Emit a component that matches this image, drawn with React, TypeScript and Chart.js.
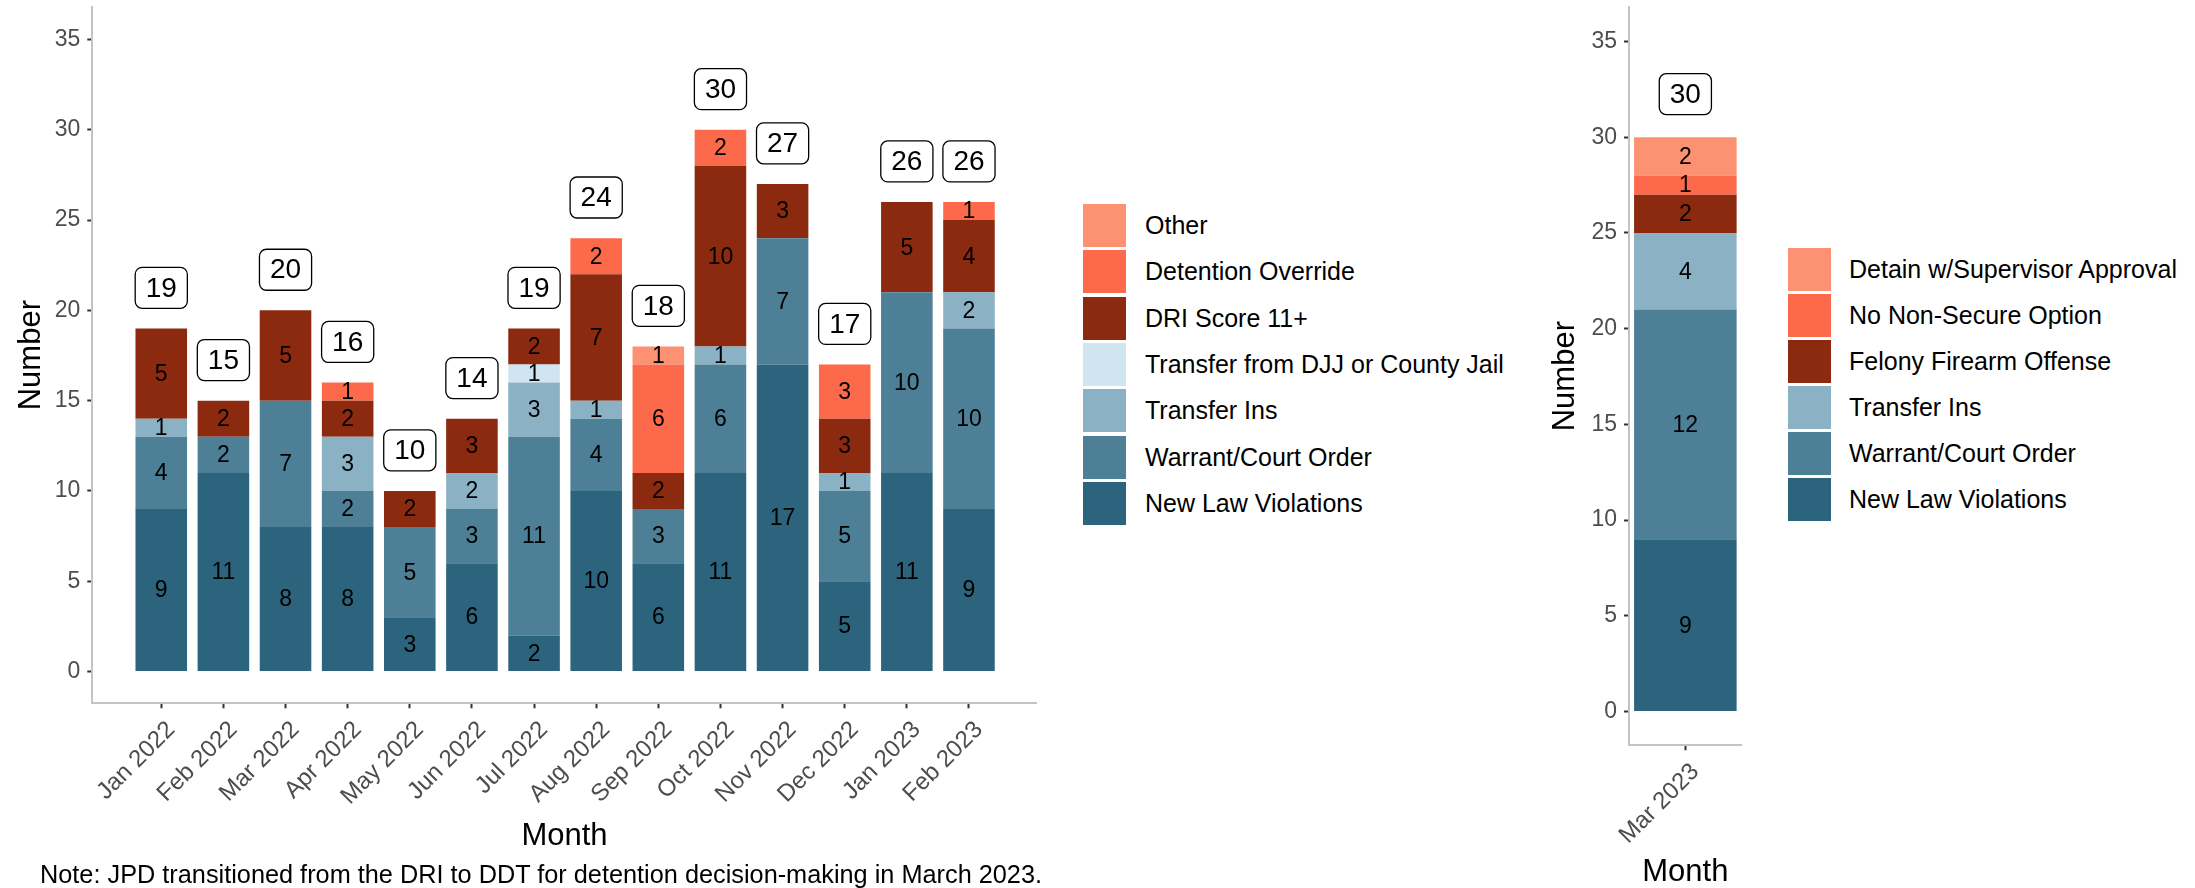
import React, { useEffect, useRef } from "react";
import { Chart, registerables } from "chart.js";
Chart.register(...registerables);

// ---------- data ----------
const months = ["Jan 2022", "Feb 2022", "Mar 2022", "Apr 2022", "May 2022", "Jun 2022", "Jul 2022", "Aug 2022", "Sep 2022", "Oct 2022", "Nov 2022", "Dec 2022", "Jan 2023", "Feb 2023"];
const newLawViolations = [9, 11, 8, 8, 3, 6, 2, 10, 6, 11, 17, 5, 11, 9];
const warrantCourtOrder = [4, 2, 7, 2, 5, 3, 11, 4, 3, 6, 7, 5, 10, 10];
const transferIns = [1, 0, 0, 3, 0, 2, 3, 1, 0, 1, 0, 1, 0, 2];
const transferDJJ = [0, 0, 0, 0, 0, 0, 1, 0, 0, 0, 0, 0, 0, 0];
const driScore = [5, 2, 5, 2, 2, 3, 2, 7, 2, 10, 3, 3, 5, 4];
const detentionOverride = [0, 0, 0, 1, 0, 0, 0, 2, 6, 2, 0, 3, 0, 1];
const otherReason = [0, 0, 0, 0, 0, 0, 0, 0, 1, 0, 0, 0, 0, 0];

const marMonths = ["Mar 2023"];
const marNewLaw = [9];
const marWarrant = [12];
const marTransferIns = [4];
const marFelonyFirearm = [2];
const marNoNonSecure = [1];
const marDetainSupervisor = [2];

const yTicks = [0, 5, 10, 15, 20, 25, 30, 35];
const noteText = "Note: JPD transitioned from the DRI to DDT for detention decision-making in March 2023.";

// ---------- styles ----------
const FONT = '"Liberation Sans", Arial, Helvetica, sans-serif';
const C_NLV = "#2C647D";
const C_WAR = "#4D7F96";
const C_TI = "#8AB2C4";
const C_DJJ = "#CFE6F0";
const C_DRI = "#8C2A0F";
const C_DO = "#FD6A4B";
const C_OTH = "#FC9272";

const leftSeries = [
  { label: "New Law Violations", data: newLawViolations, color: C_NLV },
  { label: "Warrant/Court Order", data: warrantCourtOrder, color: C_WAR },
  { label: "Transfer Ins", data: transferIns, color: C_TI },
  { label: "Transfer from DJJ or County Jail", data: transferDJJ, color: C_DJJ },
  { label: "DRI Score 11+", data: driScore, color: C_DRI },
  { label: "Detention Override", data: detentionOverride, color: C_DO },
  { label: "Other", data: otherReason, color: C_OTH },
];
const rightSeries = [
  { label: "New Law Violations", data: marNewLaw, color: C_NLV },
  { label: "Warrant/Court Order", data: marWarrant, color: C_WAR },
  { label: "Transfer Ins", data: marTransferIns, color: C_TI },
  { label: "Felony Firearm Offense", data: marFelonyFirearm, color: C_DRI },
  { label: "No Non-Secure Option", data: marNoNonSecure, color: C_DO },
  { label: "Detain w/Supervisor Approval", data: marDetainSupervisor, color: C_OTH },
];

const yMin = -1.76;
const yMax = 36.8;

const labelPlugin = {
  id: "segLabels",
  afterDatasetsDraw(chart: any) {
    const ctx = chart.ctx;
    ctx.save();
    ctx.fillStyle = "#000";
    ctx.textAlign = "center";
    ctx.textBaseline = "middle";
    ctx.font = `23px ${FONT}`;
    chart.data.datasets.forEach((ds: any, di: number) => {
      const meta = chart.getDatasetMeta(di);
      meta.data.forEach((el: any, i: number) => {
        const v = ds.data[i].y;
        if (!v) return;
        const p = el.getProps(["x", "y", "base"], true);
        ctx.fillText(String(v), p.x, (p.y + p.base) / 2 + 1);
      });
    });
    const n = chart.data.datasets[0].data.length;
    const yScale = chart.scales.y;
    ctx.font = `28px ${FONT}`;
    for (let i = 0; i < n; i++) {
      let total = 0;
      chart.data.datasets.forEach((ds: any) => (total += ds.data[i].y));
      const x = chart.getDatasetMeta(0).data[i].x;
      const cy = yScale.getPixelForValue(total + 2.25);
      const tw = ctx.measureText(String(total)).width;
      const w = tw + 21;
      const h = 41;
      const r = 7;
      const x0 = x - w / 2;
      const y0 = cy - h / 2;
      ctx.beginPath();
      ctx.moveTo(x0 + r, y0);
      ctx.lineTo(x0 + w - r, y0);
      ctx.arcTo(x0 + w, y0, x0 + w, y0 + r, r);
      ctx.lineTo(x0 + w, y0 + h - r);
      ctx.arcTo(x0 + w, y0 + h, x0 + w - r, y0 + h, r);
      ctx.lineTo(x0 + r, y0 + h);
      ctx.arcTo(x0, y0 + h, x0, y0 + h - r, r);
      ctx.lineTo(x0, y0 + r);
      ctx.arcTo(x0, y0, x0 + r, y0, r);
      ctx.closePath();
      ctx.fillStyle = "#fff";
      ctx.fill();
      ctx.lineWidth = 1.3;
      ctx.strokeStyle = "#000";
      ctx.stroke();
      ctx.fillStyle = "#000";
      ctx.fillText(String(total), x, cy + 1);
    }
    ctx.restore();
  },
};

type PanelCfg = {
  cats: string[];
  series: { label: string; data: number[]; color: string }[];
  width: number;
  height: number;
  areaLeft: number;
  areaRight: number;
  areaTop: number;
  areaBottom: number;
  xMin: number;
  xMax: number;
  barPct: number;
  xTitlePad: number;
  yTitlePad: number;
};

function makeConfig(cfg: PanelCfg): any {
  const datasets = cfg.series.map((s) => ({
    label: s.label,
    data: s.data.map((v, i) => ({ x: i, y: v })),
    backgroundColor: s.color,
    borderWidth: 0,
    categoryPercentage: 1,
    barPercentage: cfg.barPct,
  }));
  const grid = {
    display: true,
    drawOnChartArea: false,
    drawTicks: true,
    tickLength: 5,
    tickWidth: 2,
    tickColor: "#333333",
    offset: false,
  };
  const border = { display: true, color: "#C4C4C4", width: 2 };
  return {
    type: "bar",
    data: { datasets },
    plugins: [labelPlugin],
    options: {
      animation: false,
      responsive: false,
      maintainAspectRatio: false,
      layout: { padding: { left: 0, top: cfg.areaTop, right: cfg.width - cfg.areaRight, bottom: 0 } },
      plugins: { legend: { display: false }, tooltip: { enabled: false } },
      scales: {
        x: {
          type: "linear",
          stacked: true,
          offset: false,
          min: cfg.xMin,
          max: cfg.xMax,
          afterBuildTicks: (s: any) => {
            s.ticks = cfg.cats.map((_, i) => ({ value: i }));
          },
          afterFit: (s: any) => {
            s.height = cfg.height - cfg.areaBottom;
            s.paddingLeft = 0;
            s.paddingRight = 0;
          },
          ticks: {
            autoSkip: false,
            minRotation: 45,
            maxRotation: 45,
            padding: 7.5,
            labelOffset: 10,
            color: "#4D4D4D",
            font: { size: 24, family: FONT },
            callback: (v: number) => cfg.cats[Math.round(v)],
          },
          grid,
          border,
          title: {
            display: true,
            text: "Month",
            color: "#000",
            font: { size: 31, family: FONT, lineHeight: 1 },
            padding: { top: 0, bottom: cfg.xTitlePad },
          },
        },
        y: {
          type: "linear",
          stacked: true,
          min: yMin,
          max: yMax,
          afterBuildTicks: (s: any) => {
            s.ticks = yTicks.map((v) => ({ value: v }));
          },
          afterFit: (s: any) => {
            s.width = cfg.areaLeft;
            s.paddingTop = 0;
            s.paddingBottom = 0;
          },
          ticks: {
            padding: 7,
            color: "#4D4D4D",
            font: { size: 23, family: FONT },
          },
          grid,
          border,
          title: {
            display: true,
            text: "Number",
            color: "#000",
            font: { size: 31, family: FONT, lineHeight: 1 },
            padding: { top: cfg.yTitlePad, bottom: 0 },
          },
        },
      },
    },
  };
}

function Panel({ cfg, left }: { cfg: PanelCfg; left: number }) {
  const ref = useRef<HTMLCanvasElement | null>(null);
  useEffect(() => {
    if (!ref.current) return;
    const chart = new Chart(ref.current, makeConfig(cfg));
    return () => chart.destroy();
  }, []);
  return (
    <canvas
      ref={ref}
      width={cfg.width}
      height={cfg.height}
      style={{ position: "absolute", left, top: 0, width: cfg.width, height: cfg.height, display: "block" }}
    />
  );
}

function Legend({ items, left, top, pitch, textLeft, fontSize }: { items: { label: string; color: string }[]; left: number; top: number; pitch: number; textLeft: number; fontSize: number }) {
  return (
    <>
      {items.map((it, i) => (
        <div
          key={it.label}
          style={{
            position: "absolute",
            left,
            top: top + i * pitch,
            height: 43,
            display: "flex",
            alignItems: "center",
            whiteSpace: "nowrap",
          }}
        >
          <div style={{ width: 43, height: 43, background: it.color }} />
          <div style={{ marginLeft: textLeft - left - 43, fontFamily: FONT, fontSize, color: "#000", lineHeight: "43px" }}>{it.label}</div>
        </div>
      ))}
    </>
  );
}

export default function App() {
  useEffect(() => {
    document.body.style.margin = "0";
    document.body.style.overflow = "hidden";
  }, []);

  const leftCfg: PanelCfg = {
    cats: months,
    series: leftSeries,
    width: 1060,
    height: 888,
    areaLeft: 92.3,
    areaRight: 1036.7,
    areaTop: 7,
    areaBottom: 703.3,
    xMin: -1.11,
    xMax: 14.09,
    barPct: 0.83,
    xTitlePad: 36,
    yTitlePad: 15.8,
  };
  const rightCfg: PanelCfg = {
    cats: marMonths,
    series: rightSeries,
    width: 220,
    height: 888,
    areaLeft: 89,
    areaRight: 201.7,
    areaTop: 7,
    areaBottom: 745.3,
    xMin: -0.5,
    xMax: 0.5,
    barPct: 0.91,
    xTitlePad: 0,
    yTitlePad: 9.5,
  };

  const leftLegend = [...leftSeries].reverse();
  const rightLegend = [...rightSeries].reverse();

  return (
    <div style={{ position: "absolute", left: 0, top: 0, width: 2195, height: 888, background: "#fff", overflow: "hidden" }}>
      <Panel cfg={leftCfg} left={0} />
      <Panel cfg={rightCfg} left={1540} />
      <Legend items={leftLegend} left={1083} top={204} pitch={46.3} textLeft={1145} fontSize={25} />
      <Legend items={rightLegend} left={1788} top={248} pitch={46} textLeft={1849} fontSize={25} />
      <div style={{ position: "absolute", left: 40, top: 862, fontFamily: FONT, fontSize: 25.3, lineHeight: "25px", color: "#000", whiteSpace: "nowrap" }}>
        {noteText}
      </div>
    </div>
  );
}
